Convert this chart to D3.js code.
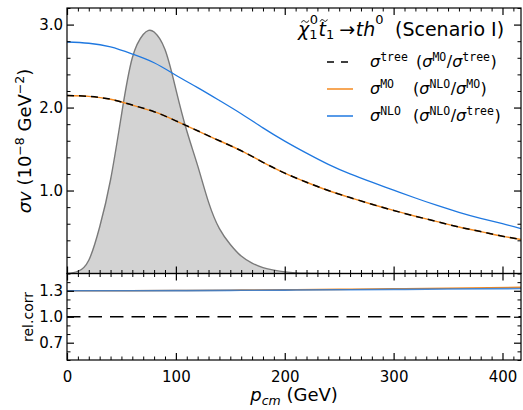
<!DOCTYPE html>
<html>
<head>
<meta charset="utf-8">
<script src="https://cdn.jsdelivr.net/npm/d3@7"></script>
<style>
body{margin:0;background:#fff}
text{font-family:"DejaVu Sans";fill:#000}
</style>
</head>
<body>
<svg id="chart" width="523" height="410"></svg>
<script>
// values
const pCurve  = [0,20,40,60,80,100,120,140,160,180,200,220,240,260,280,300,320,340,360,380,400,417];
const sigTree = [2.145,2.135,2.10,2.03,1.95,1.84,1.72,1.60,1.48,1.34,1.21,1.10,1.00,0.915,0.835,0.76,0.69,0.625,0.56,0.505,0.45,0.41];
const sigMO   = [2.145,2.135,2.10,2.03,1.95,1.84,1.72,1.60,1.48,1.34,1.21,1.10,1.00,0.915,0.835,0.76,0.69,0.625,0.56,0.505,0.45,0.41];
const sigNLO  = [2.79,2.775,2.73,2.645,2.54,2.39,2.24,2.085,1.925,1.755,1.595,1.45,1.315,1.20,1.10,1.005,0.91,0.82,0.738,0.665,0.60,0.54];

const pDist = [0,10,20,30,40,50,60,70,75,80,90,100,110,120,130,140,150,160,170,180,190,200,210,220,230];
const dist  = [0,0.025,0.16,0.56,1.13,1.91,2.60,2.88,2.93,2.91,2.70,2.22,1.72,1.30,0.86,0.54,0.35,0.21,0.125,0.07,0.04,0.02,0.008,0.003,0];

const pRatio       = [0,50,100,150,200,250,300,350,417];
const ratioMOtree  = [1,1,1,1,1,1,1,1,1];
const ratioNLOmo   = [1.300,1.301,1.303,1.307,1.311,1.317,1.323,1.330,1.340];
const ratioNLOtree = [1.300,1.300,1.302,1.305,1.308,1.312,1.316,1.320,1.326];

const xTicks = [0,100,200,300,400];
const yTicksTop = [1.0,2.0,3.0];
const yTicksBot = [0.7,1.0,1.3];

const L = 67, R = 521, T = 8, M = 273.5, B = 360;
const svg = d3.select("#chart");

const x = d3.scaleLinear([0,417],[L,R]);
const yTop = d3.scaleLinear([0,3.2],[M,T]);
const yBot = d3.scaleLinear([0.5,1.5],[B,M]);

const xMinor = d3.range(0,418,10).filter(d => d % 100);
const yMinorTop = d3.range(0.2,3.21,0.2).filter(d => Math.abs(d - Math.round(d)) > 0.01);
const yMinorBot = d3.range(0.5,1.51,0.1).filter(d => !yTicksBot.some(t => Math.abs(t-d) < 0.01));

const defs = svg.append("defs");
defs.append("clipPath").attr("id","clipTop").append("rect")
  .attr("x",L).attr("y",T).attr("width",R-L).attr("height",M-T);
defs.append("clipPath").attr("id","clipBot").append("rect")
  .attr("x",L).attr("y",M).attr("width",R-L).attr("height",B-M);

const C_BLUE = "#1f78e0", C_ORANGE = "#f58a1f";

// ---- top panel
const gTop = svg.append("g").attr("clip-path","url(#clipTop)");
const distPts = pDist.map((p,i) => [p,dist[i]]);
gTop.append("path").datum(distPts)
  .attr("fill","#d3d3d3")
  .attr("d", d3.area().x(d => x(d[0])).y0(yTop(0)).y1(d => yTop(d[1])).curve(d3.curveNatural));
gTop.append("path").datum(distPts)
  .attr("fill","none").attr("stroke","#7a7a7a").attr("stroke-width",1.4)
  .attr("d", d3.line().x(d => x(d[0])).y(d => yTop(d[1])).curve(d3.curveNatural));

const lineTop = d3.line().x(d => x(d[0])).y(d => yTop(d[1])).curve(d3.curveNatural);
gTop.append("path").datum(pCurve.map((p,i) => [p,sigNLO[i]]))
  .attr("fill","none").attr("stroke",C_BLUE).attr("stroke-width",1.3).attr("d",lineTop);
gTop.append("path").datum(pCurve.map((p,i) => [p,sigMO[i]]))
  .attr("fill","none").attr("stroke",C_ORANGE).attr("stroke-width",1.4).attr("d",lineTop);
gTop.append("path").datum(pCurve.map((p,i) => [p,sigTree[i]]))
  .attr("fill","none").attr("stroke","#000").attr("stroke-width",1.5)
  .attr("stroke-dasharray","7,5").attr("d",lineTop);

// ---- ratio panel
const gBot = svg.append("g").attr("clip-path","url(#clipBot)");
const lineBot = d3.line().x(d => x(d[0])).y(d => yBot(d[1])).curve(d3.curveNatural);
gBot.append("path").datum(pRatio.map((p,i) => [p,ratioMOtree[i]]))
  .attr("fill","none").attr("stroke","#000").attr("stroke-width",1.4)
  .attr("stroke-dasharray","13.5,8").attr("d",lineBot);
gBot.append("path").datum(pRatio.map((p,i) => [p,ratioNLOmo[i]]))
  .attr("fill","none").attr("stroke",C_ORANGE).attr("stroke-width",1.6).attr("d",lineBot);
gBot.append("path").datum(pRatio.map((p,i) => [p,ratioNLOtree[i]]))
  .attr("fill","none").attr("stroke",C_BLUE).attr("stroke-width",1.6)
  .attr("stroke-opacity",0.8).attr("d",lineBot);

// ---- axes, ticks pointing inwards on all four sides
function ticks(axisFn, scale, vals, size, pos, labels, pad) {
  const ax = axisFn(scale).tickValues(vals).tickSize(-size).tickPadding(pad || 4);
  if (!labels) ax.tickFormat("");
  else ax.tickFormat(labels);
  const g = svg.append("g").attr("transform", pos).call(ax);
  g.select(".domain").remove();
  g.selectAll("line").attr("stroke","#000").attr("stroke-width", size > 5 ? 1.2 : 1);
  g.selectAll("text").style("font-family","DejaVu Sans").style("font-size","15px").attr("fill","#000");
  return g;
}
const f1 = d3.format(".1f");
// top panel
ticks(d3.axisBottom, x, xTicks, 7, `translate(0,${M})`);
ticks(d3.axisBottom, x, xMinor, 3.5, `translate(0,${M})`);
ticks(d3.axisTop, x, xTicks, 7, `translate(0,${T})`);
ticks(d3.axisTop, x, xMinor, 3.5, `translate(0,${T})`);
ticks(d3.axisLeft, yTop, yTicksTop, 7, `translate(${L},0)`, f1, 4);
ticks(d3.axisLeft, yTop, yMinorTop, 3.5, `translate(${L},0)`);
ticks(d3.axisRight, yTop, yTicksTop, 7, `translate(${R},0)`);
ticks(d3.axisRight, yTop, yMinorTop, 3.5, `translate(${R},0)`);
// ratio panel
ticks(d3.axisTop, x, xTicks, 7, `translate(0,${M})`);
ticks(d3.axisTop, x, xMinor, 3.5, `translate(0,${M})`);
ticks(d3.axisBottom, x, xTicks, 7, `translate(0,${B})`, d3.format("d"), 11);
ticks(d3.axisBottom, x, xMinor, 3.5, `translate(0,${B})`);
ticks(d3.axisLeft, yBot, yTicksBot, 7, `translate(${L},0)`, f1, 4);
ticks(d3.axisLeft, yBot, yMinorBot, 3.5, `translate(${L},0)`);
ticks(d3.axisRight, yBot, yTicksBot, 7, `translate(${R},0)`);
ticks(d3.axisRight, yBot, yMinorBot, 3.5, `translate(${R},0)`);

svg.append("rect").attr("x",L).attr("y",T).attr("width",R-L).attr("height",M-T)
  .attr("fill","none").attr("stroke","#000").attr("stroke-width",1.2);
svg.append("rect").attr("x",L).attr("y",M).attr("width",R-L).attr("height",B-M)
  .attr("fill","none").attr("stroke","#000").attr("stroke-width",1.2);

// ---- axis labels
const yl = svg.append("text").attr("transform","translate(25,141) rotate(-90)")
  .attr("text-anchor","middle").attr("dy","0.35em").style("font-size","18px");
yl.append("tspan").text("σv").style("font-style","italic");
yl.append("tspan").text(" (10");
yl.append("tspan").text("−8").attr("dy",-7).style("font-size","12.5px");
yl.append("tspan").text(" GeV").attr("dy",7);
yl.append("tspan").text("−2").attr("dy",-7).style("font-size","12.5px");
yl.append("tspan").text(")").attr("dy",7);

svg.append("text").attr("transform","translate(28,317) rotate(-90)")
  .attr("text-anchor","middle").attr("dy","0.35em").style("font-size","14px").text("rel.corr");

const xl = svg.append("text").attr("x",294).attr("y",401).attr("text-anchor","middle").style("font-size","18px");
xl.append("tspan").text("p").style("font-style","italic");
xl.append("tspan").text("cm").style("font-style","italic").style("font-size","12.5px").attr("dy",4);
xl.append("tspan").text(" (GeV)").attr("dy",-4);

// ---- title / legend
function piece(x0, y0, str, size, kind) {
  const t = svg.append("text").attr("x",x0).attr("y",y0).text(str).style("font-size",size+"px");
  if (kind === "i") t.style("font-style","italic");
  if (kind === "m") t.style("font-family","DejaVu Sans Mono");
  return t.node().getComputedTextLength();
}
// tilde accent drawn as a small wave
function tilde(cx, cy) {
  svg.append("path")
    .attr("d", `M${cx-3.5},${cy+1} C${cx-2.5},${cy-1.6} ${cx-1},${cy-1} ${cx},${cy} S${cx+2.5},${cy+1.6} ${cx+3.5},${cy-1}`)
    .attr("fill","none").attr("stroke","#000").attr("stroke-width",1);
}

let tx = 298;
const ty = 35.5;
let w = piece(tx, ty, "χ", 19, "i"); tilde(tx + w/2 + 1.5, 21.5); tx += w;
let ws = piece(tx, ty + 3, "1", 13, "n"); piece(tx + 0.5, ty - 11.5, "0", 13, "n"); tx += ws + 1;
w = piece(tx, ty, "t", 19, "i"); tilde(tx + w/2 + 1.5, 20.5); tx += w;
tx += piece(tx, ty + 3, "1", 13, "n") + 5;
tx += piece(tx, ty, "→", 19, "n") + 0.5;
tx += piece(tx, ty, "th", 19, "i");
piece(tx, ty - 11.5, "0", 13, "n");
piece(395, ty, "(Scenario I)", 19, "n");

function mathRow(x0, y0, parts) {
  let cx = x0;
  parts.forEach(([s, k]) => {
    if (k === "s") cx += piece(cx, y0 - 6, s, 11.5, "m") + 0.5;
    else cx += piece(cx, y0, s, 16, k);
  });
}
const legendRows = [
  {y: 67, dash: "7,7", color: "#000", w: 1.5,
   a: [["σ","i"],["tree","s"]],
   b: [["(","n"],["σ","i"],["MO","s"],["/","n"],["σ","i"],["tree","s"],[")","n"]], bx: 416},
  {y: 94, dash: null, color: C_ORANGE, w: 1.5,
   a: [["σ","i"],["MO","s"]],
   b: [["(","n"],["σ","i"],["NLO","s"],["/","n"],["σ","i"],["MO","s"],[")","n"]], bx: 413},
  {y: 121, dash: null, color: C_BLUE, w: 1.5,
   a: [["σ","i"],["NLO","s"]],
   b: [["(","n"],["σ","i"],["NLO","s"],["/","n"],["σ","i"],["tree","s"],[")","n"]], bx: 413}
];
legendRows.forEach(r => {
  svg.append("line").attr("x1",327).attr("x2",353).attr("y1",r.y - 5).attr("y2",r.y - 5)
    .attr("stroke",r.color).attr("stroke-width",r.w).attr("stroke-dasharray",r.dash);
  mathRow(370, r.y, r.a);
  mathRow(r.bx, r.y, r.b);
});
</script>
</body>
</html>
